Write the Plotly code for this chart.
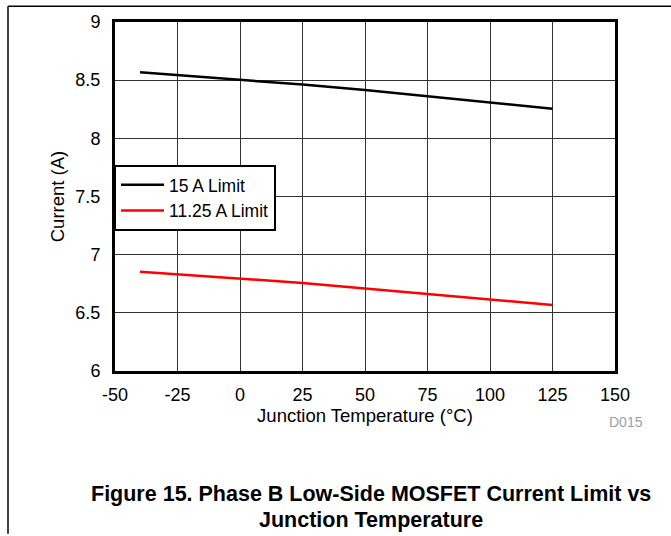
import plotly.graph_objects as go

temps = [-40, 0, 25, 50, 75, 100, 125]
limit_15a = [8.568, 8.506, 8.462, 8.415, 8.362, 8.311, 8.254]
limit_1125a = [6.853, 6.797, 6.757, 6.709, 6.661, 6.616, 6.568]
x_ticks = [-50, -25, 0, 25, 50, 75, 100, 125, 150]
y_ticks = [6, 6.5, 7, 7.5, 8, 8.5, 9]

FONT = "Liberation Sans, Arial, sans-serif"

fig = go.Figure()
fig.add_trace(go.Scatter(x=temps, y=limit_15a, mode="lines", name="15 A Limit",
                         line=dict(color="black", width=2.5)))
fig.add_trace(go.Scatter(x=temps, y=limit_1125a, mode="lines", name="11.25 A Limit",
                         line=dict(color="#ff0000", width=2.5)))

L, R, T, B = 115, 615, 17, 371
W, H = 671, 536
pw, ph = R - L, B - T

def px(x):
    return (x - L) / pw

def py(y):
    return (B - y) / ph

fig.update_layout(
    width=W, height=H,
    margin=dict(l=L, r=W - R, t=T, b=H - B, pad=0),
    paper_bgcolor="white", plot_bgcolor="white",
    font=dict(family=FONT, size=18, color="black"),
    showlegend=True,
    legend=dict(x=px(114), y=py(162), xanchor="left", yanchor="top",
                bgcolor="white", bordercolor="black", borderwidth=2,
                font=dict(size=17.5), tracegroupgap=0, itemwidth=43),
    xaxis=dict(range=[-50, 150], tickvals=x_ticks, ticktext=[str(v) for v in x_ticks],
               showgrid=True, gridcolor="#333333", gridwidth=1,
               showline=True, linecolor="black", linewidth=3, mirror=True,
               ticks="", zeroline=False, fixedrange=True, ticklabelstandoff=5,
               title=dict(text="Junction Temperature (°C)", standoff=2, font=dict(size=18.5))),
    yaxis=dict(range=[6, 9], tickvals=y_ticks, ticktext=["6", "6.5", "7", "7.5", "8", "8.5", "9"],
               showgrid=True, gridcolor="#333333", gridwidth=1,
               showline=True, linecolor="black", linewidth=3, mirror=True,
               ticks="", zeroline=False, fixedrange=True, ticklabelstandoff=8,
               title=dict(text="Current (A)", standoff=6, font=dict(size=18.5))),
    shapes=[
        dict(type="line", xref="paper", yref="paper", x0=px(8), x1=px(671), y0=py(1), y1=py(1),
             line=dict(color="black", width=1.5)),
        dict(type="line", xref="paper", yref="paper", x0=px(8), x1=px(8), y0=py(1), y1=py(536),
             line=dict(color="black", width=1.5)),
    ],
    annotations=[
        dict(text="D015", xref="paper", yref="paper", x=px(626), y=py(423),
             xanchor="center", yanchor="middle", showarrow=False,
             font=dict(size=14, color="#a0a0a0")),
        dict(text="<b>Figure 15. Phase B Low-Side MOSFET Current Limit vs</b>",
             xref="paper", yref="paper", x=px(371), y=py(496),
             xanchor="center", yanchor="middle", showarrow=False,
             font=dict(size=21.5, color="black")),
        dict(text="<b>Junction Temperature</b>",
             xref="paper", yref="paper", x=px(371), y=py(522),
             xanchor="center", yanchor="middle", showarrow=False,
             font=dict(size=21.5, color="black")),
    ],
)

fig.write_html("out.html", config={"displayModeBar": False},
               post_script="document.body.style.margin='0';document.body.style.overflow='hidden';")
